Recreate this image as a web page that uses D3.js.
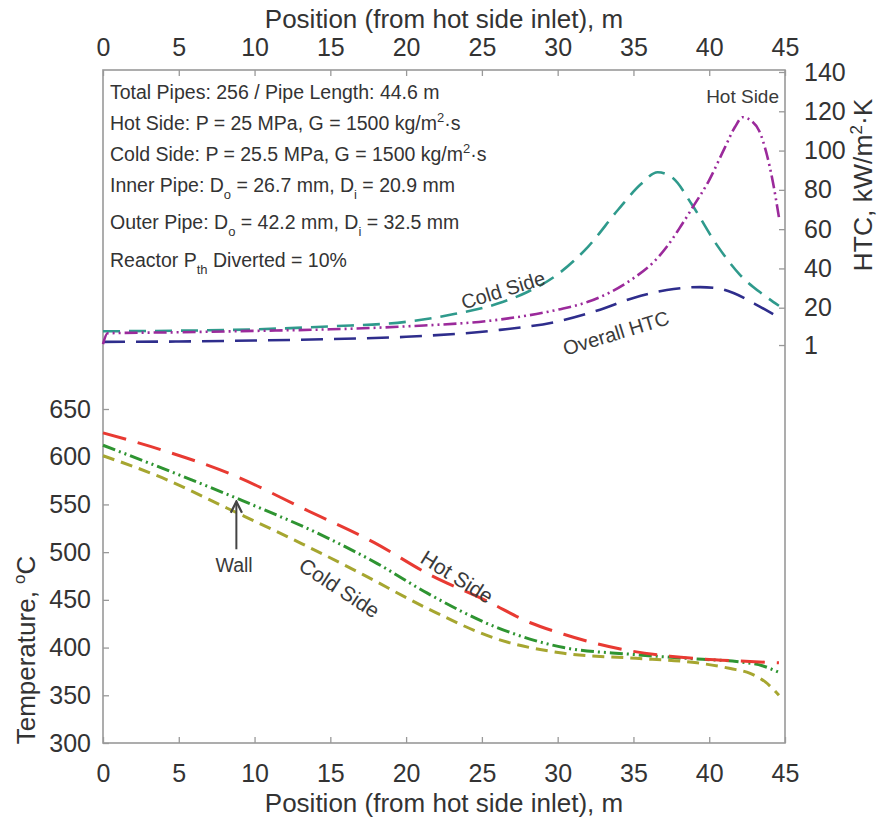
<!DOCTYPE html>
<html lang="en">
<head>
  <meta charset="UTF-8">
  <title>Heat exchanger profiles</title>
  <script src="https://d3js.org/d3.v7.min.js"></script>
  <style>
    body { margin: 0; background: #fff; font-family: "Liberation Sans", Arial, sans-serif; }
    svg text { fill: #333; }
  </style>
</head>
<body>
<svg id="chart" width="884" height="821"></svg>
<script>
// ---- data ----
const positionTicks = [0, 5, 10, 15, 20, 25, 30, 35, 40, 45];
const tempTicks = [300, 350, 400, 450, 500, 550, 600, 650];
const htcTicks = [1, 20, 40, 60, 80, 100, 120, 140];

// temperature, degC vs position, m
const tempHot = [[0,625],[3.9,607],[8.7,580],[13.3,545],[17.9,510],[21.6,476],[25.3,449],[28.2,426],[30.4,414],[32.6,404],[35,396],[37.4,391],[39.6,388],[42,386],[44.6,384]];
const tempWall = [[0,612],[3.9,588],[9.2,554],[14.8,515],[18.1,488],[21.4,457],[26,421],[30.4,400],[34.8,393],[39.2,388],[42,385],[43.5,381],[44.6,374]];
const tempCold = [[0,601],[3.9,578],[8.2,546],[13.1,509],[17.1,477],[21.4,441],[26,409],[30.4,394],[34.8,389],[39.2,384],[41.4,378],[42.7,373],[43.7,364],[44.6,350]];

// heat transfer coefficient, kW/m2K vs position, m
const htcCold = [[0,8],[5,8.3],[10,9],[15,10.5],[20,12.8],[23,16.5],[26,22],[28,28],[30,37],[32,51],[34,70],[35.5,83],[36.6,89],[37.6,86],[38.9,72],[40.5,52],[42,37],[43.5,27],[44.6,21]];
const htcHot = [[0,1.5],[0.3,7],[5,7.5],[10,8.2],[15,9],[20,10.5],[26.2,14],[30,19],[32,23],[33.5,28],[35,35],[36.3,43],[37.2,51],[38,60],[38.9,71],[40,85],[41,101],[41.7,112],[42.2,117],[42.8,115],[43.3,110],[43.8,98],[44.2,84],[44.6,66]];
const htcOverall = [[0,2.6],[5,2.8],[10,3.3],[15,4],[20,5.2],[26.2,8.7],[30,13],[32.8,19],[35,25],[37.2,29],[39.4,30.5],[40.5,30],[41.6,27.5],[43,22],[44.6,15]];

const infoLines = [
  [["Total Pipes: 256 / Pipe Length: 44.6 m"]],
  [["Hot Side: P = 25 MPa, G = 1500 kg/m"], ["2", "sup"], ["·s"]],
  [["Cold Side: P = 25.5 MPa, G = 1500 kg/m"], ["2", "sup"], ["·s"]],
  [["Inner Pipe: D"], ["o", "sub"], [" = 26.7 mm, D"], ["i", "sub"], [" = 20.9 mm"]],
  [["Outer Pipe: D"], ["o", "sub"], [" = 42.2 mm, D"], ["i", "sub"], [" = 32.5 mm"]],
  [["Reactor P"], ["th", "sub"], [" Diverted = 10%"]]
];

// ---- layout ----
const plotLeft = 103, plotRight = 785, plotTop = 70, plotBottom = 743;
const svg = d3.select("#chart");

const x = d3.scaleLinear().domain([0, 45]).range([plotLeft, plotRight]);
const yT = d3.scaleLinear().domain([300, 650]).range([plotBottom, 409]);
const yH = d3.scaleLinear().domain([0, 140]).range([347, 72]);

// frame
svg.append("rect")
  .attr("x", plotLeft).attr("y", plotTop)
  .attr("width", plotRight - plotLeft).attr("height", plotBottom - plotTop)
  .attr("fill", "none").attr("stroke", "#999").attr("stroke-width", 1.6);

function styleAxis(g) {
  g.select(".domain").remove();
  g.selectAll(".tick line").attr("stroke", "#999").attr("stroke-width", 1.3);
  g.selectAll(".tick text").attr("fill", "#333").style("font-size", "25px")
    .style("font-family", "'Liberation Sans', Arial, sans-serif");
}

svg.append("g").attr("transform", `translate(0,${plotBottom})`)
  .call(d3.axisBottom(x).tickValues(positionTicks).tickSizeInner(-6).tickSizeOuter(0).tickPadding(21))
  .call(styleAxis);

svg.append("g").attr("transform", `translate(0,${plotTop})`)
  .call(d3.axisTop(x).tickValues(positionTicks).tickSizeInner(-6).tickSizeOuter(0).tickPadding(14))
  .call(styleAxis);

svg.append("g").attr("transform", `translate(${plotLeft},0)`)
  .call(d3.axisLeft(yT).tickValues(tempTicks).tickSizeInner(-6).tickSizeOuter(0).tickPadding(12))
  .call(styleAxis);

svg.append("g").attr("transform", `translate(${plotRight},0)`)
  .call(d3.axisRight(yH).tickValues(htcTicks).tickSizeInner(-6).tickSizeOuter(0).tickPadding(19))
  .call(styleAxis);

// axis titles
const titleFont = "26px";
svg.append("text").attr("x", (plotLeft + plotRight) / 2).attr("y", 28)
  .attr("text-anchor", "middle").style("font-size", titleFont)
  .text("Position (from hot side inlet), m");
svg.append("text").attr("x", (plotLeft + plotRight) / 2).attr("y", 812)
  .attr("text-anchor", "middle").style("font-size", titleFont)
  .text("Position (from hot side inlet), m");

const tTitle = svg.append("text")
  .attr("transform", "translate(35,650) rotate(-90)")
  .attr("text-anchor", "middle").style("font-size", titleFont);
tTitle.append("tspan").text("Temperature, ");
tTitle.append("tspan").attr("dy", -10).style("font-size", "17px").text("o");
tTitle.append("tspan").attr("dy", 10).text("C");

const hTitle = svg.append("text")
  .attr("transform", "translate(872,185) rotate(-90)")
  .attr("text-anchor", "middle").style("font-size", "26.5px");
hTitle.append("tspan").text("HTC, kW/m");
hTitle.append("tspan").attr("dy", -10).style("font-size", "17px").text("2");
hTitle.append("tspan").attr("dy", 10).text("·K");

// info text block
const lineY = [99, 130, 161, 192, 229, 267];
infoLines.forEach((parts, i) => {
  const t = svg.append("text").attr("x", 110).attr("y", lineY[i]).style("font-size", "19.5px");
  let shift = 0;
  parts.forEach(([s, kind]) => {
    const target = kind === "sup" ? -8 : kind === "sub" ? 7 : 0;
    const sp = t.append("tspan").attr("dy", target - shift).text(s);
    if (kind) sp.style("font-size", "13px");
    shift = target;
  });
});

// curves
function curve(data, yScale, color, dash, width) {
  const line = d3.line()
    .x(d => x(d[0]))
    .y(d => yScale(d[1]))
    .curve(d3.curveMonotoneX);
  svg.append("path")
    .datum(data)
    .attr("fill", "none")
    .attr("stroke", color)
    .attr("stroke-width", width)
    .attr("stroke-dasharray", dash)
    .attr("d", line);
}

curve(htcOverall, yH, "#2e2d8c", "22 11", 2.6);
curve(htcCold, yH, "#2f9a8c", "17 9", 2.6);
curve(htcHot, yH, "#9b2a9b", "13 4 2 4 2 4", 2.6);

curve(tempCold, yT, "#a6a630", "12 7", 3);
curve(tempWall, yT, "#2e9431", "13 4 2 4 2 4", 3);
curve(tempHot, yT, "#e83a32", "24 12", 3);

// annotations
function label(txt, px, py, angle, size) {
  svg.append("text")
    .attr("transform", `translate(${px},${py}) rotate(${angle})`)
    .attr("text-anchor", "middle")
    .attr("dy", "0.35em")
    .style("font-size", size)
    .style("fill", "#3a3a3a")
    .text(txt);
}
label("Hot Side", x(42.2), yH(127.8), 0, "19px");
label("Cold Side", x(26.4), yH(29), -17, "20px");
label("Overall HTC", x(33.85), yH(7.1), -17, "20px");
label("Hot Side", x(23.36), yT(474), 32, "21px");
label("Cold Side", x(15.6), yT(462.5), 33, "21px");
label("Wall", x(8.65), yT(486.6), 0, "19.5px");

// arrow to the wall curve
svg.append("defs").append("marker")
  .attr("id", "head").attr("viewBox", "0 0 10 10")
  .attr("refX", 9).attr("refY", 5)
  .attr("markerWidth", 7).attr("markerHeight", 7)
  .attr("orient", "auto")
  .append("path").attr("d", "M1,1 L9,5 L1,9")
  .attr("fill", "none").attr("stroke", "#444").attr("stroke-width", 1.6);

svg.append("line")
  .attr("x1", x(8.8)).attr("y1", yT(503))
  .attr("x2", x(8.8)).attr("y2", yT(553))
  .attr("stroke", "#444").attr("stroke-width", 2)
  .attr("marker-end", "url(#head)");
</script>
</body>
</html>
